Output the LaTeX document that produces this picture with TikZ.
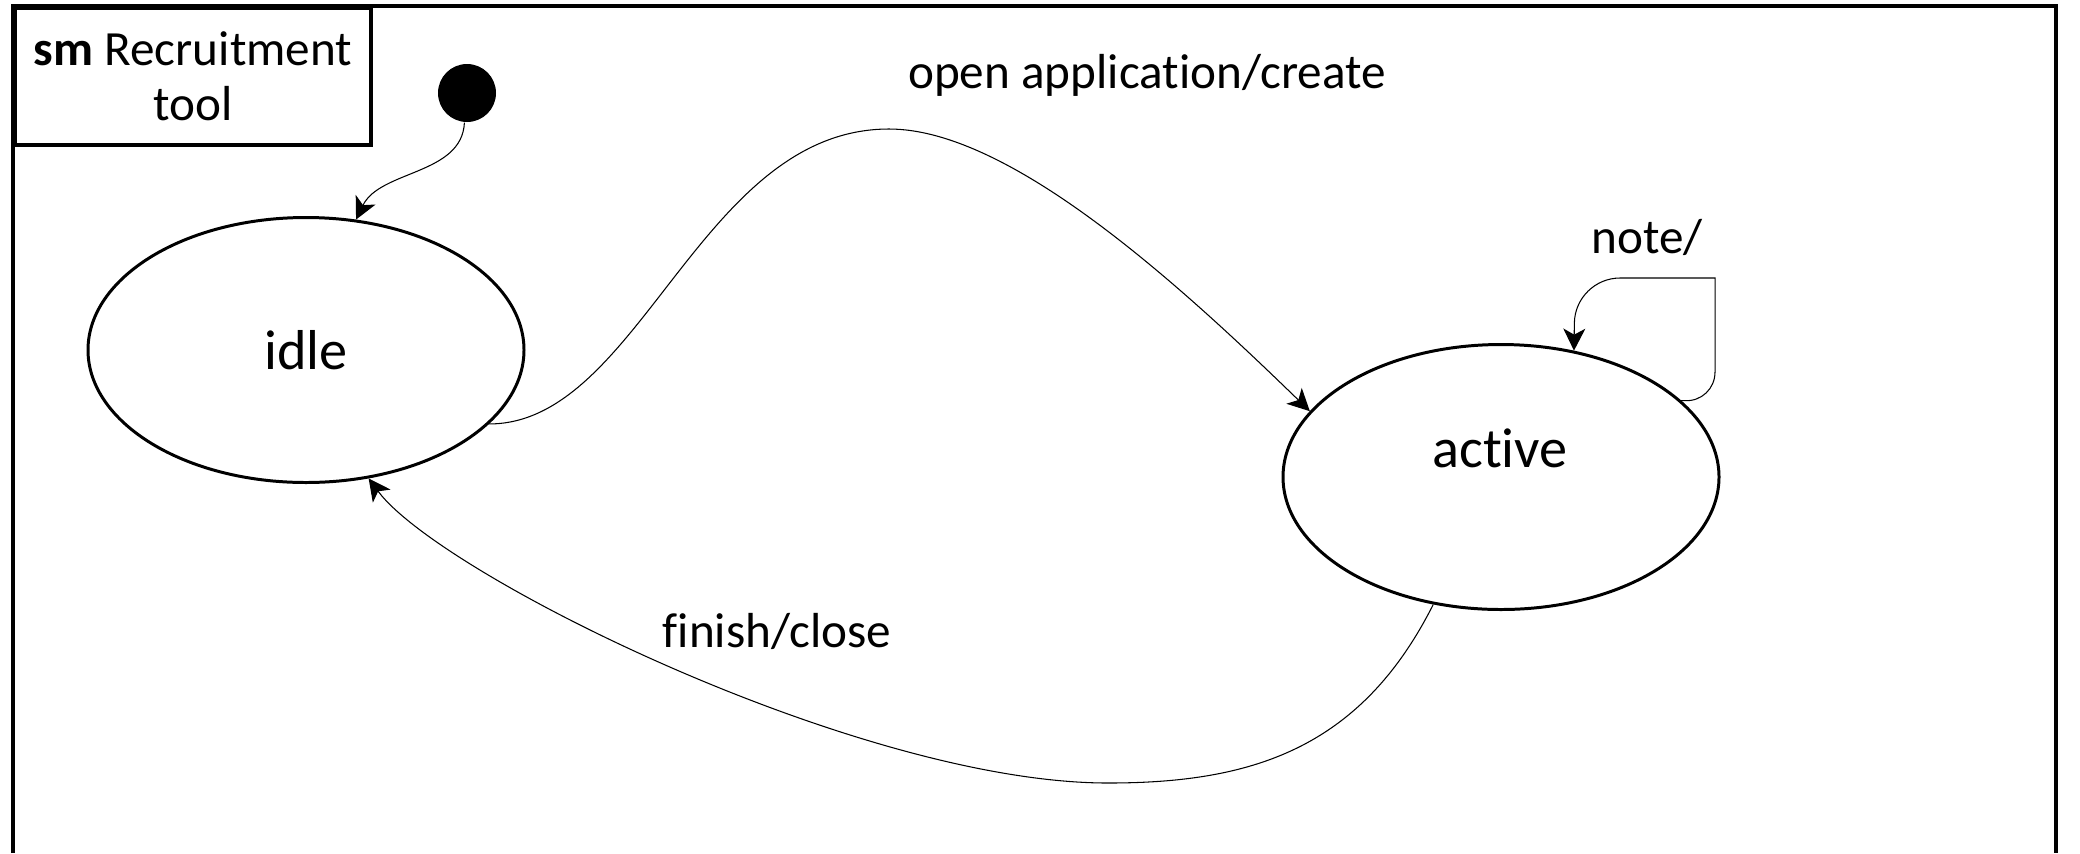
\documentclass[tikz,border=0pt]{standalone}
\usepackage{fontspec}
\setmainfont{Carlito}[Ligatures=NoCommon]
\usetikzlibrary{shapes.geometric, arrows.meta}
\tikzstyle{transition} = [line width=0.3pt,-{Stealth[length=2.2mm, width=2.2mm, inset=0.6mm]}]
\tikzstyle{state} = [draw, ellipse, line width=0.85pt, inner sep=0pt,
    minimum width=43.6mm, minimum height=26.5mm, font=\fontsize{16}{19}\selectfont]
\tikzstyle{evt} = [font=\fontsize{14}{16.8}\selectfont, inner sep=0pt]

\begin{document}
\begin{tikzpicture}[x=0.1mm, y=-0.1mm]
        \useasboundingbox (0,0) rectangle (2080,853);
        % frame
        \draw [line width=1.1pt] (13,853) -- (13,6) -- (2056,6) -- (2056,853);
        \node (title)[draw, line width=1.1pt, anchor=north west,
            minimum width=35.6mm,
            minimum height=13.7mm, align=center,
            font=\fontsize{14}{15.6}\selectfont] at (13,6) {\textbf{sm} Recruitment\\tool};
        % states
        \node (init)[circle, fill=black, inner sep=0pt,
            minimum size=5.8mm] at (467,93) {};
        \node (idle)[state] at (306,350) {idle};
        \node (active)[state] at (1501,477) {};
        \node (activetext)[font=\fontsize{16}{19}\selectfont] at (1500,448) {active};
        % transitions
        \draw [transition] (init.-95) .. controls (462,175) and (380,170) .. (idle.69);
        \draw [transition] (idle.-22) .. controls (640,424) and (700,129) .. (889,129)
            .. controls (1010,129) and (1180,285) .. (active.161);
        \node (open)[evt] at (1147,75) {open application/create};
        \draw [transition] (active.23) [rounded corners=3mm] -- (1715,402) [sharp corners]
            -- (1715,278) [rounded corners=4.5mm] -- (1575,278) -- (active.60);
        \node (note)[evt] at (1647,237) {note/};
        \draw [transition] (active.-118) .. controls (1360,750) and (1250,783) .. (1108,783)
            .. controls (860,783) and (440,575) .. (idle.-64);
        \node (finish)[evt] at (777,631) {finish/close};
    \end{tikzpicture}
\end{document}
